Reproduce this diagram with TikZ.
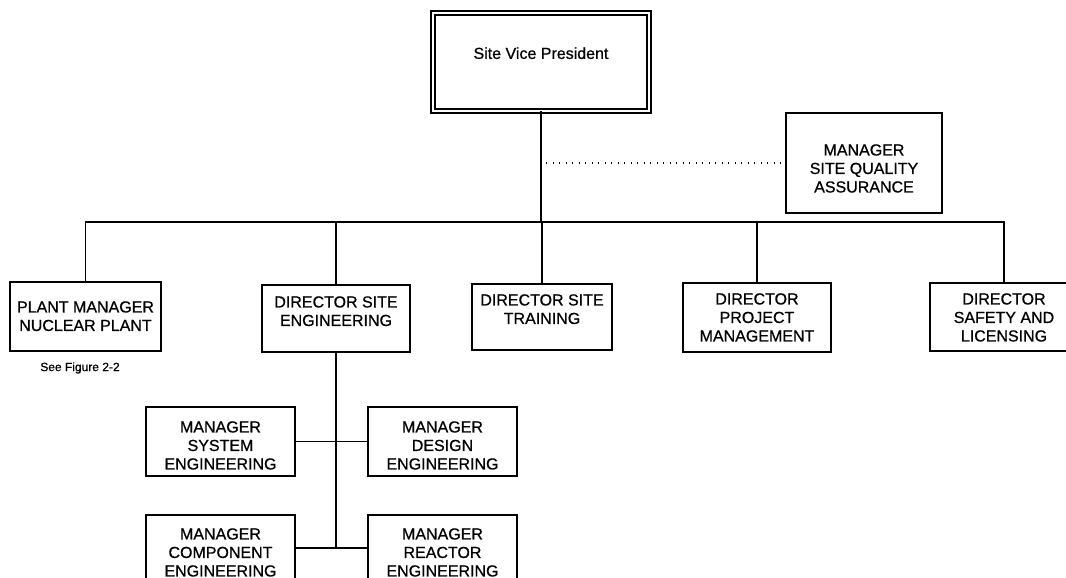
\documentclass[tikz,border=0pt]{standalone}
\usepackage{fontspec}
\setmainfont{Liberation Sans}
\newfontfamily\scanfont{Liberation Sans}[FakeBold=0.7]
\newcommand\boxtxt[4]{\parbox[c][#2pt][t]{#1pt}{\centering\vspace*{#3pt}#4\par}}
\begin{document}
\begin{tikzpicture}[x=1pt,y=-1pt,
  box/.style={draw, line width=1.8pt, inner sep=0pt, outer sep=0pt, anchor=north west,
    font=\scanfont\fontsize{16}{18.5}\selectfont},
  vpbox/.style={box, double, double distance=2.4pt, line width=1.5pt},
  conn/.style={line width=1.8pt},
  dotline/.style={line width=1.4pt, dash pattern=on 1.4pt off 5.1pt},
  note/.style={font=\scanfont\fontsize{12}{14}\selectfont, inner sep=0pt}]
\path[use as bounding box] (0,0) rectangle (1066,578);
\fill[white] (0,0) rectangle (1066,578);
\clip (0,0) rectangle (1066,578);

\node[vpbox] (vp) at (433,13) {\boxtxt{216}{98}{34.3}{Site Vice President}};
\node[box] (qa) at (786,113) {\boxtxt{156}{100}{31.3}{MANAGER\\SITE QUALITY\\ASSURANCE}};
\node[box] (plant) at (10,282) {\boxtxt{151}{69}{19.3}{PLANT MANAGER\\NUCLEAR PLANT}};
\node[box] (dse) at (262,285) {\boxtxt{148}{67}{11.3}{DIRECTOR SITE\\ENGINEERING}};
\node[box] (dst) at (472,284) {\boxtxt{140}{66}{10.3}{DIRECTOR SITE\\TRAINING}};
\node[box] (dpm) at (683,283) {\boxtxt{148}{69}{10.3}{DIRECTOR\\PROJECT\\MANAGEMENT}};
\node[box] (dsl) at (930,283) {\boxtxt{148}{68}{10.3}{DIRECTOR\\SAFETY AND\\LICENSING}};
\node[box] (mse) at (146,407) {\boxtxt{149}{69}{14.3}{MANAGER\\SYSTEM\\ENGINEERING}};
\node[box] (mde) at (368,407) {\boxtxt{149}{69}{14.3}{MANAGER\\DESIGN\\ENGINEERING}};
\node[box] (mce) at (146,515) {\boxtxt{149}{66}{13.3}{MANAGER\\COMPONENT\\ENGINEERING}};
\node[box] (mre) at (368,515) {\boxtxt{149}{66}{13.3}{MANAGER\\REACTOR\\ENGINEERING}};
\node[note] (see) at (80,368) {See Figure 2-2};

\coordinate (bus) at (541,222);
\draw[conn] (vp.south) -- (bus);
\draw[conn] (plant.north) |- (bus) -| (dsl.north);
\draw[conn] (dse.north) -- (dse.north |- bus);
\draw[conn] (dst.north) -- (dst.north |- bus);
\draw[conn] (dpm.north) -- (dpm.north |- bus);
\draw[dotline] (vp.south |- qa.west) ++(5,0) -- ([xshift=-3pt]qa.west);

\draw[conn] (dse.south) -- (dse.south |- mce.east);
\draw[conn] (mse.east) -- (mde.west);
\draw[conn] (mce.east) -- (mre.west);
\end{tikzpicture}
\end{document}
